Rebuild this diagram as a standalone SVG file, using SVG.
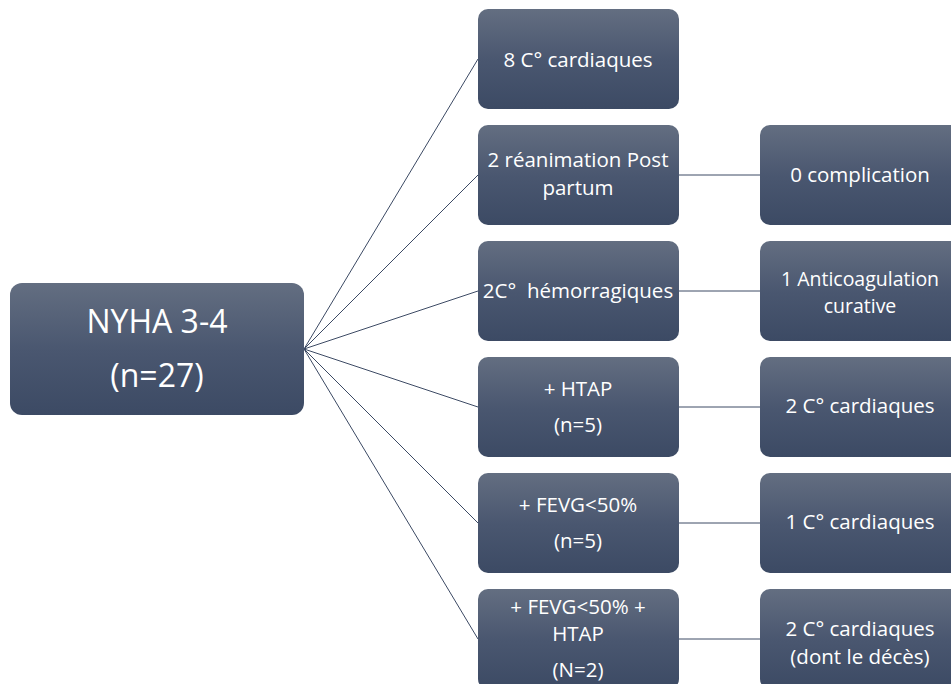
<svg xmlns="http://www.w3.org/2000/svg" width="951" height="684" viewBox="0 0 951 684">
<defs>
<linearGradient id="g" x1="0" y1="0" x2="0" y2="1">
<stop offset="0" stop-color="#636e81"/>
<stop offset="0.5" stop-color="#4a5770"/>
<stop offset="1" stop-color="#3c4a64"/>
</linearGradient>
<style>
.box{fill:url(#g);}
.t{font-family:"Open Sans","Liberation Sans",sans-serif;font-size:20.5px;fill:#ffffff;text-anchor:middle;white-space:pre;}
.s{font-size:19.5px;}
.big{font-size:32px;}
.c{stroke:#3c4a64;stroke-width:1;fill:none;}
</style>
</defs>
<rect width="951" height="684" fill="#ffffff"/>
<g id="connectors">
<line class="c" x1="304" y1="349" x2="478" y2="59"/>
<line class="c" x1="304" y1="349" x2="478" y2="175"/>
<line class="c" x1="304" y1="349" x2="478" y2="291"/>
<line class="c" x1="304" y1="349" x2="478" y2="407"/>
<line class="c" x1="304" y1="349" x2="478" y2="523"/>
<line class="c" x1="304" y1="349" x2="478" y2="639"/>
<line class="c" x1="679" y1="175" x2="760" y2="175"/>
<line class="c" x1="679" y1="291" x2="760" y2="291"/>
<line class="c" x1="679" y1="407" x2="760" y2="407"/>
<line class="c" x1="679" y1="523" x2="760" y2="523"/>
<line class="c" x1="679" y1="639" x2="760" y2="639"/>
</g>
<g id="root">
<rect class="box" x="10" y="283" width="294" height="132" rx="12"/>
<text class="t big" x="157" y="333">NYHA 3-4</text>
<text class="t big" x="157" y="387">(n=27)</text>
</g>
<g id="m1">
<rect class="box" x="478" y="9" width="201" height="100" rx="10"/>
<text class="t" x="578" y="67">8 C° cardiaques</text>
</g>
<g id="m2">
<rect class="box" x="478" y="125" width="201" height="100" rx="10"/>
<text class="t" x="578" y="167">2 réanimation Post</text>
<text class="t" x="578" y="195">partum</text>
</g>
<g id="m3">
<rect class="box" x="478" y="241" width="201" height="100" rx="10"/>
<text class="t" x="578" y="298">2C°  hémorragiques</text>
</g>
<g id="m4">
<rect class="box" x="478" y="357" width="201" height="100" rx="10"/>
<text class="t" x="578" y="396">+ HTAP</text>
<text class="t" x="578" y="432">(n=5)</text>
</g>
<g id="m5">
<rect class="box" x="478" y="473" width="201" height="100" rx="10"/>
<text class="t" x="578" y="512">+ FEVG&lt;50%</text>
<text class="t" x="578" y="548">(n=5)</text>
</g>
<g id="m6">
<rect class="box" x="478" y="589" width="201" height="100" rx="10"/>
<text class="t" x="578" y="614">+ FEVG&lt;50% +</text>
<text class="t" x="578" y="641">HTAP</text>
<text class="t" x="578" y="677">(N=2)</text>
</g>
<g id="r2">
<rect class="box" x="760" y="125" width="201" height="100" rx="10"/>
<text class="t" x="860" y="182">0 complication</text>
</g>
<g id="r3">
<rect class="box" x="760" y="241" width="201" height="100" rx="10"/>
<text class="t s" x="860" y="286">1 Anticoagulation</text>
<text class="t s" x="860" y="313">curative</text>
</g>
<g id="r4">
<rect class="box" x="760" y="357" width="201" height="100" rx="10"/>
<text class="t" x="860" y="413">2 C° cardiaques</text>
</g>
<g id="r5">
<rect class="box" x="760" y="473" width="201" height="100" rx="10"/>
<text class="t" x="860" y="529">1 C° cardiaques</text>
</g>
<g id="r6">
<rect class="box" x="760" y="589" width="201" height="100" rx="10"/>
<text class="t" x="860" y="636">2 C° cardiaques</text>
<text class="t" x="860" y="664">(dont le décès)</text>
</g>
</svg>
